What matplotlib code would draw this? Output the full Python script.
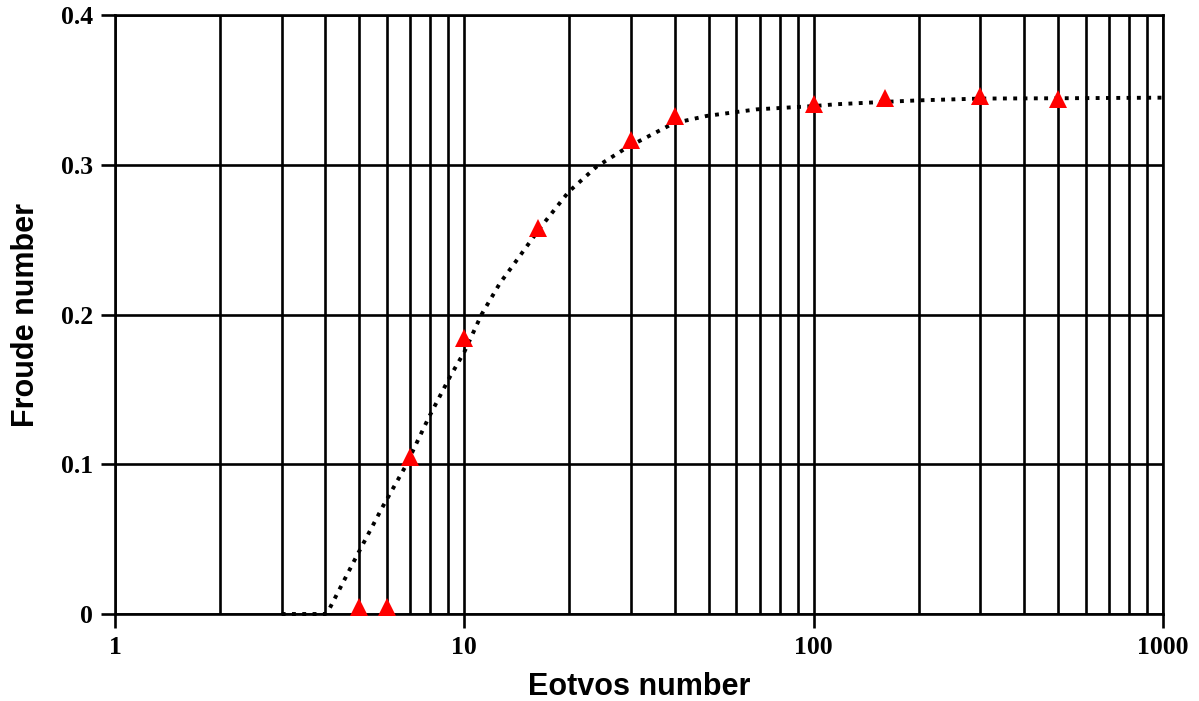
import matplotlib.pyplot as plt
from matplotlib.ticker import LogLocator, FixedLocator, NullFormatter

# measured points (Eotvos, Froude)
eo_meas = [5, 6, 7, 10, 16.3, 30, 40, 100, 160, 300, 500]
fr_meas = [0.005, 0.005, 0.105, 0.184, 0.258, 0.3165, 0.3325, 0.3405, 0.3445, 0.346, 0.344]

# fitted trend line
eo_fit = [3, 4, 4.1, 4.9, 5.85, 6.8, 7.9, 9.1, 10, 11.2, 12.65, 13.8, 16.5, 19.9,
          23.9, 29.2, 31.8, 39.7, 49.4, 68.7, 100, 116, 160, 200, 300, 500, 1000]
fr_fit = [0, 0, 0.003, 0.038, 0.072, 0.099, 0.131, 0.1585, 0.175, 0.2, 0.221, 0.233,
          0.258, 0.282, 0.2987, 0.3115, 0.316, 0.3277, 0.3326, 0.337, 0.3392, 0.3404,
          0.342, 0.343, 0.3442, 0.3444, 0.3448]

y_ticks = [0, 0.1, 0.2, 0.3, 0.4]
y_labels = ['0', '0.1', '0.2', '0.3', '0.4']
x_ticks = [1, 10, 100, 1000]
x_labels = ['1', '10', '100', '1000']

fig = plt.figure(figsize=(11.99, 7.01), dpi=100)
ax = fig.add_axes([0.0959, 0.1241, 0.8741, 0.8545])

ax.set_xscale('log')
ax.set_xlim(1, 1000)
ax.set_ylim(0, 0.4)

ax.plot(eo_fit, fr_fit, color='black', ls=':', lw=2.8, zorder=3, clip_on=False)
ax.plot(eo_meas, fr_meas, ls='none', marker='^', color='red', markersize=13,
        markeredgewidth=0, zorder=4, clip_on=False)

ax.xaxis.set_major_locator(FixedLocator(x_ticks))
ax.xaxis.set_minor_locator(LogLocator(base=10, subs=range(2, 10)))
ax.xaxis.set_minor_formatter(NullFormatter())
ax.set_xticklabels(x_labels)
ax.set_yticks(y_ticks)
ax.set_yticklabels(y_labels)

ax.grid(which='major', color='black', lw=1.9)
ax.grid(which='minor', axis='x', color='black', lw=1.9)
ax.set_axisbelow(True)

ax.tick_params(which='major', length=10, width=1.9, pad=6, color='black')
ax.tick_params(which='minor', length=0)
for lab in ax.get_xticklabels() + ax.get_yticklabels():
    lab.set_fontfamily('Liberation Serif')
    lab.set_fontweight('bold')
    lab.set_fontsize(18.5)

for sp in ax.spines.values():
    sp.set_linewidth(1.9)
    sp.set_color('black')

ax.set_xlabel('Eotvos number', fontsize=22, fontweight='bold',
              fontfamily='Liberation Sans', labelpad=9)
ax.set_ylabel('Froude number', fontsize=22, fontweight='bold',
              fontfamily='Liberation Sans', labelpad=14)

fig.savefig('out.png', dpi=100)
